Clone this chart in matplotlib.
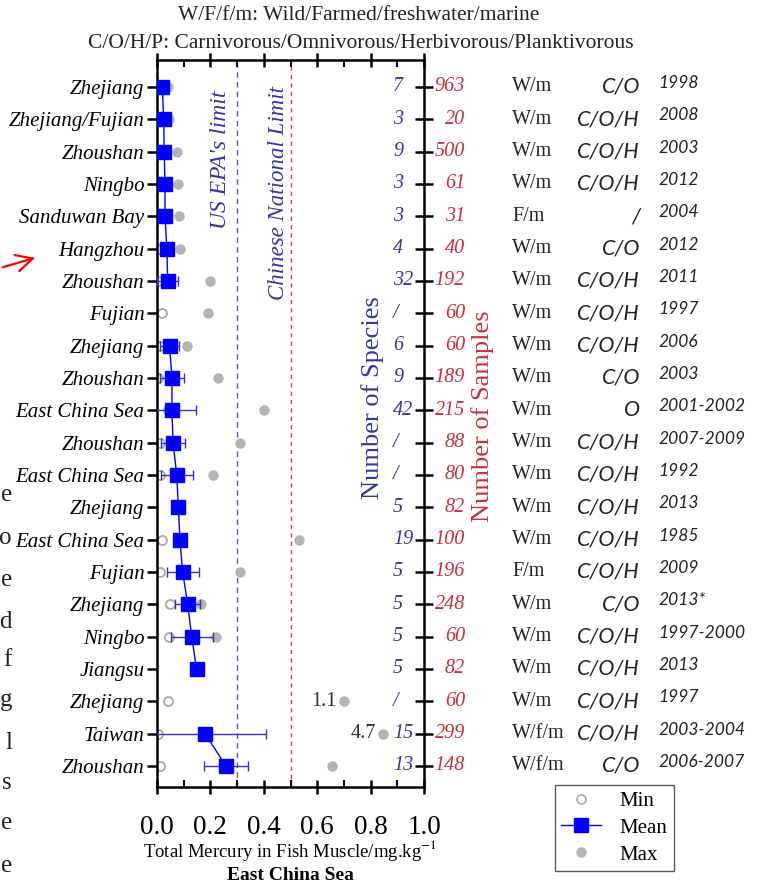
import numpy as np
import matplotlib.pyplot as plt
from matplotlib.lines import Line2D

nan = np.nan

regions = ['Zhejiang', 'Zhejiang/Fujian', 'Zhoushan', 'Ningbo', 'Sanduwan Bay', 'Hangzhou',
           'Zhoushan', 'Fujian', 'Zhejiang', 'Zhoushan', 'East China Sea', 'Zhoushan',
           'East China Sea', 'Zhejiang', 'East China Sea', 'Fujian', 'Zhejiang', 'Ningbo',
           'Jiangsu', 'Zhejiang', 'Taiwan', 'Zhoushan']
means = [0.02, 0.025, 0.027, 0.03, 0.03, 0.037, 0.04, nan, 0.047, 0.056, 0.056, 0.06,
         0.074, 0.08, 0.086, 0.096, 0.115, 0.13, 0.148, nan, 0.18, 0.258]
errs = [0.015, 0.02, 0.012, 0.012, 0.015, 0.018, 0.04, nan, 0.035, 0.046, 0.09, 0.045,
        0.06, nan, nan, 0.06, 0.047, 0.078, nan, nan, 0.227, 0.081]
mins = [0.01, 0.01, 0.01, 0.005, 0.01, 0.005, 0.003, 0.017, 0.01, 0.005, 0.04, 0.01,
        0.01, nan, 0.02, 0.01, 0.05, 0.045, nan, 0.04, 0.002, 0.01]
maxs = [0.04, 0.045, 0.074, 0.078, 0.083, 0.086, 0.2, 0.19, 0.113, 0.23, 0.40, 0.31,
        0.21, nan, 0.53, 0.31, 0.165, 0.22, nan, 0.70, 0.845, 0.654]
# off-scale maxima drawn near the edge with their true value written beside
max_notes = {19: '1.1', 20: '4.7'}

species = ['7', '3', '9', '3', '3', '4', '32', '/', '6', '9', '42', '/', '/', '5', '19',
           '5', '5', '5', '5', '/', '15', '13']
samples = ['963', '20', '500', '61', '31', '40', '192', '60', '60', '189', '215', '88',
           '80', '82', '100', '196', '248', '60', '82', '60', '299', '148']
source = ['W/m', 'W/m', 'W/m', 'W/m', 'F/m', 'W/m', 'W/m', 'W/m', 'W/m', 'W/m', 'W/m',
          'W/m', 'W/m', 'W/m', 'W/m', 'F/m', 'W/m', 'W/m', 'W/m', 'W/m', 'W/f/m', 'W/f/m']
feeding = ['C/O', 'C/O/H', 'C/O/H', 'C/O/H', '/', 'C/O', 'C/O/H', 'C/O/H', 'C/O/H', 'C/O',
           'O', 'C/O/H', 'C/O/H', 'C/O/H', 'C/O/H', 'C/O/H', 'C/O', 'C/O/H', 'C/O/H',
           'C/O/H', 'C/O/H', 'C/O']
years = ['1998', '2008', '2003', '2012', '2004', '2012', '2011', '1997', '2006', '2003',
         '2001-2002', '2007-2009', '1992', '2013', '1985', '2009', '2013*', '1997-2000',
         '2013', '1997', '2003-2004', '2006-2007']

x_ticks = [0.0, 0.2, 0.4, 0.6, 0.8, 1.0]

plt.rcParams['font.family'] = 'Liberation Serif'
plt.rcParams['mathtext.fontset'] = 'stix'

W, H = 764, 888
fig = plt.figure(figsize=(W / 100, H / 100), dpi=100)
ax = fig.add_axes([157 / W, 1 - 787 / H, 267 / W, 727 / H])

y = np.arange(len(regions))
blue = '#0000ff'
ebar = '#3434c0'
grey = '#b4b4b4'

ax.axvline(0.3, color='#5a5aa8', ls=(0, (4, 3)), lw=1, zorder=1)
ax.axvline(0.5, color='#d84040', ls=(0, (3, 3)), lw=1, zorder=1)

ax.plot(maxs, y, 'o', color=grey, ms=7.5, mec='none', zorder=2)
ax.plot(mins, y, 'o', mfc='white', mec='#a8a8a8', mew=1.3, ms=6.5, zorder=2)
ax.errorbar(means, y, xerr=errs, fmt='none', ecolor=ebar, elinewidth=1, capsize=3.5,
            capthick=1, zorder=3)
ax.plot(means, y, '-', color=blue, lw=1, zorder=3)
ax.plot(means, y, 's', color=blue, ms=10.5, mec=blue, zorder=4)

for i, note in max_notes.items():
    ax.annotate(note, (maxs[i], y[i]), xytext=(-5, 0), textcoords='offset points',
                ha='right', va='center', fontsize=14.5, color='#333333')

ax.set_xlim(0, 1.0)
ax.set_ylim(21.65, -0.835)
ax.set_xticks(x_ticks)
ax.set_xticklabels([f'{v:.1f}' for v in x_ticks], fontsize=19.5)
ax.set_xticks(np.arange(0.1, 1.0, 0.2), minor=True)
ax.set_yticks(y)
ax.set_yticklabels(regions, fontsize=15, style='italic')
ax.tick_params(axis='x', which='major', direction='inout', length=10, width=1.8, pad=15,
               top=True)
ax.tick_params(axis='x', which='minor', direction='in', length=5, width=1.5, top=True)
ax.tick_params(axis='y', direction='out', length=7, width=1.8, pad=2)
for s in ax.spines.values():
    s.set_linewidth(1.8)

# ticks crossing the right spine
axr = ax.twinx()
axr.set_ylim(ax.get_ylim())
axr.set_yticks(y)
axr.set_yticklabels([])
axr.tick_params(axis='y', direction='inout', length=13, width=1.8)
for s in axr.spines.values():
    s.set_visible(False)

ax.set_xlabel('Total Mercury in Fish Muscle/mg.kg$^{-1}$', fontsize=13.5, labelpad=-1)
fig.text(290 / W, 1 - 875 / H, 'East China Sea', ha='center', va='center',
         fontsize=14, fontweight='bold')

# table columns to the right of the plot
def col(px):
    return (px - 157) / 267

for i in y:
    ax.text(col(393), i, species[i], ha='left', va='center', fontsize=14.5,
            style='italic', color='#3535a0', clip_on=False)
    ax.text(col(465), i, samples[i], ha='right', va='center', fontsize=14.5,
            style='italic', color='#c8303a', clip_on=False)
    ax.text(col(512), i, source[i], ha='left', va='center', fontsize=14.5,
            color='#222222', clip_on=False)
    ax.text(col(640), i, feeding[i], ha='right', va='center', fontsize=15.5,
            style='italic', family='Lato', color='#222222', clip_on=False)
    ax.text(col(658), i - 0.12, years[i], ha='left', va='center', fontsize=12.5,
            style='italic', family='Lato', color='#222222', clip_on=False)

fig.text(373 / W, 1 - 398 / H, 'Number of Species', rotation=90, ha='center',
         va='center', fontsize=19, color='#3535a0')
fig.text(483 / W, 1 - 416 / H, 'Number of Samples', rotation=90, ha='center',
         va='center', fontsize=19, color='#c8303a')
fig.text(220 / W, 1 - 160 / H, "US EPA's limit", rotation=90, ha='center', va='center',
         fontsize=17, style='italic', color='#3535a0')
fig.text(278 / W, 1 - 193 / H, 'Chinese National Limit', rotation=90, ha='center',
         va='center', fontsize=16.5, style='italic', color='#3535a0')

fig.text(359 / W, 1 - 16 / H, 'W/F/f/m: Wild/Farmed/freshwater/marine', ha='center',
         va='center', fontsize=15.5, color='#222222')
fig.text(361 / W, 1 - 44 / H, 'C/O/H/P: Carnivorous/Omnivorous/Herbivorous/Planktivorous',
         ha='center', va='center', fontsize=15.5, color='#222222')

handles = [
    Line2D([], [], marker='o', ls='none', mfc='white', mec='#a8a8a8', mew=1.2, ms=6.5),
    Line2D([], [], marker='s', ls='-', color=blue, lw=1, ms=10.5),
    Line2D([], [], marker='o', ls='none', color=grey, mec='none', ms=7.5),
]
leg = fig.legend(handles, ['Min', 'Mean', 'Max'], loc='upper left',
                 bbox_to_anchor=(555 / W, 1 - 785 / H), fontsize=15, frameon=True,
                 fancybox=False, edgecolor='#333333', handlelength=1.9,
                 handletextpad=0.9, borderpad=0.3, labelspacing=0.35,
                 borderaxespad=0)
leg.get_frame().set_linewidth(1)

# page remnants at the left edge of the crop
for yy, ch in zip([495, 538, 580, 622, 660, 700, 743, 783, 823, 866],
                  ['e', 'o', 'e', 'd', 'f', 'g', 'l', 's', 'e', 'e']):
    fig.text(12 / W, 1 - yy / H, ch, ha='right', va='center', fontsize=18,
             color='#222222')
fig.add_artist(plt.Annotation('', xy=(38 / W, 1 - 257 / H), xytext=(0, 1 - 268 / H),
                              xycoords='figure fraction', textcoords='figure fraction',
                              arrowprops=dict(arrowstyle='->', color='red', lw=1.6,
                                              mutation_scale=30)))

fig.savefig('out.png', dpi=100)
